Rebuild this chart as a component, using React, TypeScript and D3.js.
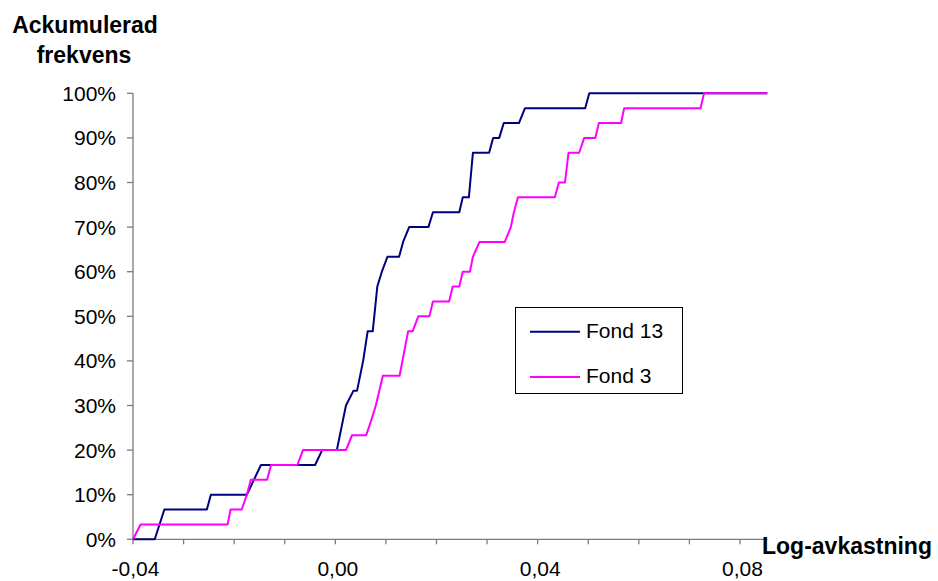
import React from "react";
import * as d3 from "d3";

// Fond 13 – cumulative frequency (x = log return, y = percent)
const fond13X = [-0.04, -0.0357, -0.0338, -0.0254, -0.0246, -0.0175, -0.0161, -0.0147, -0.004, -0.0026, 0.0003, 0.0009, 0.0015, 0.0021, 0.0036, 0.0043, 0.0055, 0.0064, 0.0074, 0.0083, 0.0092, 0.0103, 0.0126, 0.0134, 0.0146, 0.0184, 0.0193, 0.0245, 0.0252, 0.0264, 0.0272, 0.0304, 0.0312, 0.0324, 0.0333, 0.0363, 0.0375, 0.0494, 0.0502, 0.0854];
const fond13Y = [0, 0, 6.67, 6.67, 10, 10, 13.33, 16.67, 16.67, 20, 20, 23.33, 26.67, 30, 33.33, 33.33, 40, 46.67, 46.67, 56.67, 60, 63.33, 63.33, 66.67, 70, 70, 73.33, 73.33, 76.67, 76.67, 86.67, 86.67, 90, 90, 93.33, 93.33, 96.67, 96.67, 100, 100];

// Fond 3
const fond3X = [-0.04, -0.0385, -0.0213, -0.0207, -0.0185, -0.0175, -0.0167, -0.0135, -0.0127, -0.0075, -0.0064, 0.0021, 0.0033, 0.0061, 0.0071, 0.008, 0.0094, 0.0127, 0.0144, 0.0153, 0.0164, 0.0186, 0.0193, 0.0225, 0.0232, 0.0245, 0.0252, 0.0266, 0.0272, 0.0285, 0.0335, 0.0347, 0.0353, 0.0361, 0.0434, 0.0442, 0.0454, 0.0461, 0.0482, 0.0492, 0.0514, 0.0521, 0.0565, 0.0571, 0.0722, 0.0729, 0.0854];
const fond3Y = [0, 3.33, 3.33, 6.67, 6.67, 10, 13.33, 13.33, 16.67, 16.67, 20, 20, 23.33, 23.33, 26.67, 30, 36.67, 36.67, 46.67, 46.67, 50, 50, 53.33, 53.33, 56.67, 56.67, 60, 60, 63.33, 66.67, 66.67, 70, 73.33, 76.67, 76.67, 80, 80, 86.67, 86.67, 90, 90, 93.33, 93.33, 96.67, 96.67, 100, 100];

const yTicks = [0, 10, 20, 30, 40, 50, 60, 70, 80, 90, 100];
const xMinorTicks = [-0.04, -0.03, -0.02, -0.01, 0, 0.01, 0.02, 0.03, 0.04, 0.05, 0.06, 0.07, 0.08];
const xLabelTicks = [-0.04, 0, 0.04, 0.08];
const seriesNames = ["Fond 13", "Fond 3"];
const seriesColors = ["#000080", "#FF00FF"];

const FONT = "'Liberation Sans', Arial, Helvetica, sans-serif";

export default function App() {
  const W = 938;
  const H = 581;
  const x = d3.scaleLinear().domain([-0.04, 0.0854]).range([133, 767.3]);
  const y = d3.scaleLinear().domain([0, 100]).range([539.3, 93.3]);

  const line = d3
    .line<[number, number]>()
    .x((d) => x(d[0]))
    .y((d) => y(d[1]));

  const s13: [number, number][] = fond13X.map((v, i) => [v, fond13Y[i]]);
  const s3: [number, number][] = fond3X.map((v, i) => [v, fond3Y[i]]);

  const fmtX = (v: number) => {
    const s = Math.abs(v).toFixed(2).replace(".", ",");
    return v < -1e-9 ? "-" + s : s;
  };

  const axisColor = "#7a7a7a";

  return (
    <svg
      width={W}
      height={H}
      style={{ position: "absolute", left: 0, top: 0, background: "#fff" }}
      fontFamily={FONT}
    >
      <rect x={0} y={0} width={W} height={H} fill="#fff" />
      {/* Y axis */}
      <line x1={x(-0.04)} x2={x(-0.04)} y1={y(0)} y2={y(100)} stroke={axisColor} strokeWidth={1.3} />
      {yTicks.map((t) => (
        <g key={"y" + t}>
          <line x1={x(-0.04) - 6} x2={x(-0.04)} y1={y(t)} y2={y(t)} stroke={axisColor} strokeWidth={1.3} />
          <text x={116} y={y(t) + 7.5} fontSize={21} textAnchor="end" fill="#000">
            {t + "%"}
          </text>
        </g>
      ))}
      {/* X axis */}
      <line x1={x(-0.04)} x2={x(0.0854)} y1={y(0)} y2={y(0)} stroke={axisColor} strokeWidth={1.3} />
      {xMinorTicks.map((t) => (
        <line key={"xt" + t} x1={x(t)} x2={x(t)} y1={y(0)} y2={y(0) + 5} stroke={axisColor} strokeWidth={1.3} />
      ))}
      {xLabelTicks.map((t) => (
        <text key={"xl" + t} x={x(t) + 2.5} y={576} fontSize={21} textAnchor="middle" fill="#000">
          {fmtX(t)}
        </text>
      ))}

      {/* Series */}
      <path d={line(s13) || ""} fill="none" stroke={seriesColors[0]} strokeWidth={2} strokeLinejoin="round" />
      <path d={line(s3) || ""} fill="none" stroke={seriesColors[1]} strokeWidth={2} strokeLinejoin="round" />

      {/* Axis titles */}
      <text x={85} y={32.5} fontSize={23} fontWeight="bold" textAnchor="middle" fill="#000">
        Ackumulerad
      </text>
      <text x={84} y={63} fontSize={23} fontWeight="bold" textAnchor="middle" fill="#000">
        frekvens
      </text>
      <text x={762} y={553.5} fontSize={23} fontWeight="bold" textAnchor="start" fill="#000">
        Log-avkastning
      </text>

      {/* Legend */}
      <rect x={515.5} y={307.5} width={167} height={86} fill="#fff" stroke="#000" strokeWidth={1} />
      {seriesNames.map((n, i) => (
        <g key={n}>
          <line x1={530} x2={580} y1={331.7 + i * 45.3} y2={331.7 + i * 45.3} stroke={seriesColors[i]} strokeWidth={2} />
          <text x={586} y={337.5 + i * 45.3} fontSize={21} fill="#000">
            {n}
          </text>
        </g>
      ))}
    </svg>
  );
}
